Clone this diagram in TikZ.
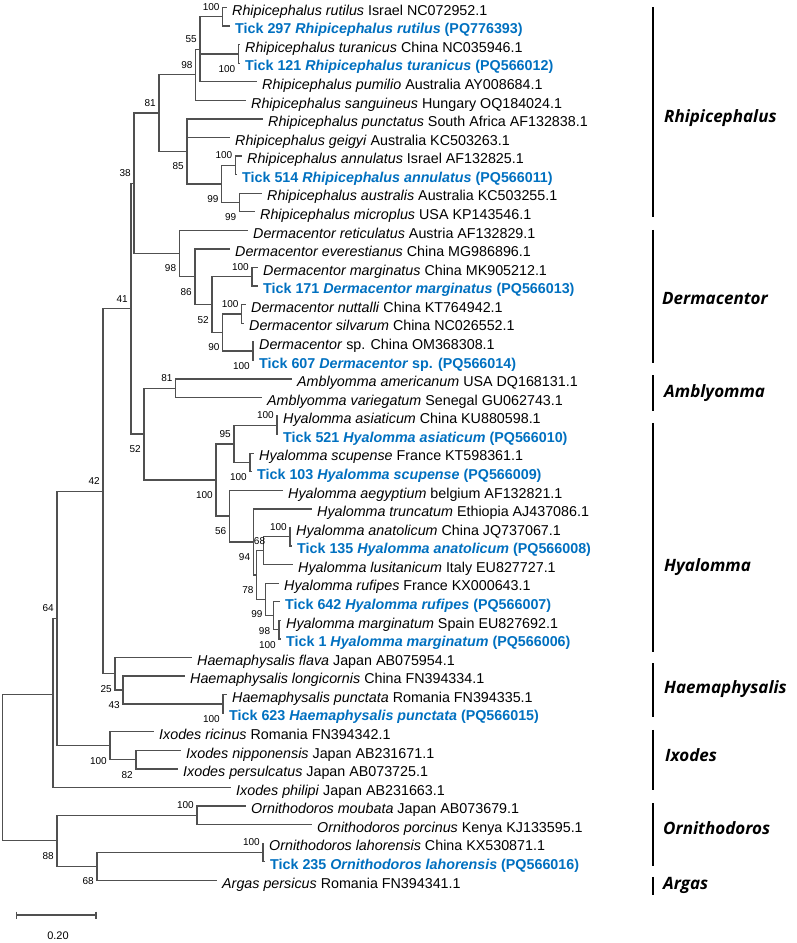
\documentclass[tikz,border=0pt]{standalone}
\usepackage{fontspec}
\setmainfont{Liberation Sans}
\newfontfamily\cladefont{Open Sans}
\newcommand{\taxonfont}{\fontsize{14.3}{17}\selectfont}
\pgfdeclarelayer{edgelayer}
\pgfdeclarelayer{nodelayer}
\pgfsetlayers{edgelayer,nodelayer,main}
\definecolor{isolateblue}{RGB}{0,112,192}
\definecolor{branchgrey}{RGB}{80,80,80}
\tikzstyle{taxon}=[anchor=west,inner xsep=5pt,inner ysep=0pt,text height=16pt,text depth=0.6pt,font=\taxonfont]
\tikzstyle{isolate}=[taxon,text=isolateblue,font=\taxonfont\bfseries]
\tikzstyle{junction}=[coordinate]
\tikzstyle{branch line}=[draw=branchgrey,line width=1.3pt]
\tikzstyle{boot}=[anchor=east,inner sep=0pt,xshift=-3pt,font=\fontsize{10}{12}\selectfont]
\tikzstyle{boot above}=[boot,yshift=10pt]
\tikzstyle{boot below}=[boot,yshift=-15pt]
\tikzstyle{clade name}=[anchor=west,inner sep=0pt,text height=12pt,text depth=3.5pt,font=\cladefont\fontsize{17}{19}\selectfont\bfseries\itshape]
\tikzstyle{clade bar}=[draw=black,line width=2pt]

\begin{document}
\begin{tikzpicture}[x=1pt,y=-18.57pt]
	\useasboundingbox (0,0.596) rectangle (797,51.377);
	\begin{pgfonlayer}{nodelayer}
		% leaves
		\node [style=taxon] (1) at (227, 1) {\textit{Rhipicephalus rutilus} Israel NC072952.1};
		\node [style=isolate] (2) at (230, 2) {Tick 297 \textit{Rhipicephalus rutilus} (PQ776393)};
		\node [style=taxon] (3) at (240, 3) {\textit{Rhipicephalus turanicus} China NC035946.1};
		\node [style=isolate] (4) at (240, 4) {Tick 121 \textit{Rhipicephalus turanicus} (PQ566012)};
		\node [style=taxon] (5) at (257, 5) {\textit{Rhipicephalus pumilio} Australia AY008684.1};
		\node [style=taxon] (6) at (246, 6) {\textit{Rhipicephalus sanguineus} Hungary OQ184024.1};
		\node [style=taxon] (7) at (263, 7) {\textit{Rhipicephalus punctatus} South Africa AF132838.1};
		\node [style=taxon] (8) at (230, 8) {\textit{Rhipicephalus geigyi} Australia KC503263.1};
		\node [style=taxon] (9) at (242, 9) {\textit{Rhipicephalus annulatus} Israel AF132825.1};
		\node [style=isolate] (10) at (237, 10) {Tick 514 \textit{Rhipicephalus annulatus} (PQ566011)};
		\node [style=taxon] (11) at (262, 11) {\textit{Rhipicephalus australis} Australia KC503255.1};
		\node [style=taxon] (12) at (255, 12) {\textit{Rhipicephalus microplus} USA KP143546.1};
		\node [style=taxon] (13) at (248, 13) {\textit{Dermacentor reticulatus} Austria AF132829.1};
		\node [style=taxon] (14) at (230, 14) {\textit{Dermacentor everestianus} China MG986896.1};
		\node [style=taxon] (15) at (258, 15) {\textit{Dermacentor marginatus} China MK905212.1};
		\node [style=isolate] (16) at (258, 16) {Tick 171 \textit{Dermacentor marginatus} (PQ566013)};
		\node [style=taxon] (17) at (246, 17) {\textit{Dermacentor nuttalli} China KT764942.1};
		\node [style=taxon] (18) at (244, 18) {\textit{Dermacentor silvarum} China NC026552.1};
		\node [style=taxon] (19) at (254, 19) {\textit{Dermacentor} sp. China OM368308.1};
		\node [style=isolate] (20) at (254, 20) {Tick 607 \textit{Dermacentor} sp. (PQ566014)};
		\node [style=taxon] (21) at (292, 21) {\textit{Amblyomma americanum} USA DQ168131.1};
		\node [style=taxon] (22) at (262, 22) {\textit{Amblyomma variegatum} Senegal GU062743.1};
		\node [style=taxon] (23) at (278, 23) {\textit{Hyalomma asiaticum} China KU880598.1};
		\node [style=isolate] (24) at (278, 24) {Tick 521 \textit{Hyalomma asiaticum} (PQ566010)};
		\node [style=taxon] (25) at (254, 25) {\textit{Hyalomma scupense} France KT598361.1};
		\node [style=isolate] (26) at (252, 26) {Tick 103 \textit{Hyalomma scupense} (PQ566009)};
		\node [style=taxon] (27) at (283, 27) {\textit{Hyalomma aegyptium} belgium AF132821.1};
		\node [style=taxon] (28) at (312, 28) {\textit{Hyalomma truncatum} Ethiopia AJ437086.1};
		\node [style=taxon] (29) at (291, 29) {\textit{Hyalomma anatolicum} China JQ737067.1};
		\node [style=isolate] (30) at (292, 30) {Tick 135 \textit{Hyalomma anatolicum} (PQ566008)};
		\node [style=taxon] (31) at (293, 31) {\textit{Hyalomma lusitanicum} Italy EU827727.1};
		\node [style=taxon] (32) at (279, 32) {\textit{Hyalomma rufipes} France KX000643.1};
		\node [style=isolate] (33) at (280, 33) {Tick 642 \textit{Hyalomma rufipes} (PQ566007)};
		\node [style=taxon] (34) at (281, 34) {\textit{Hyalomma marginatum} Spain EU827692.1};
		\node [style=isolate] (35) at (281, 35) {Tick 1 \textit{Hyalomma marginatum} (PQ566006)};
		\node [style=taxon] (36) at (192, 36) {\textit{Haemaphysalis flava} Japan AB075954.1};
		\node [style=taxon] (37) at (185, 37) {\textit{Haemaphysalis longicornis} China FN394334.1};
		\node [style=taxon] (38) at (227, 38) {\textit{Haemaphysalis punctata} Romania FN394335.1};
		\node [style=isolate] (39) at (224, 39) {Tick 623 \textit{Haemaphysalis punctata} (PQ566015)};
		\node [style=taxon] (40) at (154, 40) {\textit{Ixodes ricinus} Romania FN394342.1};
		\node [style=taxon] (41) at (181, 41) {\textit{Ixodes nipponensis} Japan AB231671.1};
		\node [style=taxon] (42) at (178, 42) {\textit{Ixodes persulcatus} Japan AB073725.1};
		\node [style=taxon] (43) at (231, 43) {\textit{Ixodes philipi} Japan AB231663.1};
		\node [style=taxon] (44) at (246, 44) {\textit{Ornithodoros moubata} Japan AB073679.1};
		\node [style=taxon] (45) at (312, 45) {\textit{Ornithodoros porcinus} Kenya KJ133595.1};
		\node [style=taxon] (46) at (264, 46) {\textit{Ornithodoros lahorensis} China KX530871.1};
		\node [style=isolate] (47) at (265, 47) {Tick 235 \textit{Ornithodoros lahorensis} (PQ566016)};
		\node [style=taxon] (48) at (217, 48) {\textit{Argas persicus} Romania FN394341.1};
		% internal nodes
		\node [style=junction] (49) at (222.7, 1.5) {};
		\node [style=junction] (50) at (238.5, 3.5) {};
		\node [style=junction] (51) at (200, 3.25) {};
		\node [style=junction] (52) at (195.7, 4.625) {};
		\node [style=junction] (53) at (235.5, 9.5) {};
		\node [style=junction] (54) at (239.5, 11.5) {};
		\node [style=junction] (55) at (221.7, 10.5) {};
		\node [style=junction] (56) at (187, 8.75) {};
		\node [style=junction] (57) at (159, 6.6875) {};
		\node [style=junction] (58) at (252, 15.5) {};
		\node [style=junction] (59) at (241.7, 17.5) {};
		\node [style=junction] (60) at (253, 19.5) {};
		\node [style=junction] (61) at (222.7, 18.5) {};
		\node [style=junction] (62) at (212, 17) {};
		\node [style=junction] (63) at (195, 15.5) {};
		\node [style=junction] (64) at (179.3, 14.25) {};
		\node [style=junction] (65) at (134, 10.47) {};
		\node [style=junction] (66) at (175.7, 21.5) {};
		\node [style=junction] (67) at (277, 23.5) {};
		\node [style=junction] (68) at (250, 25.5) {};
		\node [style=junction] (69) at (234, 24.5) {};
		\node [style=junction] (70) at (290, 29.5) {};
		\node [style=junction] (71) at (263.3, 30.25) {};
		\node [style=junction] (72) at (279, 34.5) {};
		\node [style=junction] (73) at (273.3, 33.75) {};
		\node [style=junction] (74) at (265.7, 32.875) {};
		\node [style=junction] (75) at (256.7, 31.5625) {};
		\node [style=junction] (76) at (253.3, 29.78) {};
		\node [style=junction] (77) at (229.5, 28.39) {};
		\node [style=junction] (78) at (216, 26.445) {};
		\node [style=junction] (79) at (144, 23.97) {};
		\node [style=junction] (80) at (131, 17.22) {};
		\node [style=junction] (81) at (223, 38.5) {};
		\node [style=junction] (82) at (123, 37.75) {};
		\node [style=junction] (83) at (115, 36.875) {};
		\node [style=junction] (84) at (103, 27.05) {};
		\node [style=junction] (85) at (136, 41.5) {};
		\node [style=junction] (86) at (110, 40.75) {};
		\node [style=junction] (87) at (57, 33.9) {};
		\node [style=junction] (88) at (53, 38) {};
		\node [style=junction] (89) at (197, 44.5) {};
		\node [style=junction] (90) at (263, 46.5) {};
		\node [style=junction] (91) at (97, 47.25) {};
		\node [style=junction] (92) at (57, 45.875) {};
		\node [style=junction] (93) at (2.7, 41.94) {};
		% bootstrap values
		\node [style=boot above] (b49) at (49) {100};
		\node [style=boot below] (b50) at (50) {100};
		\node [style=boot above] (b51) at (51) {55};
		\node [style=boot above] (b52) at (52) {98};
		\node [style=boot above] (b53) at (53) {100};
		\node [style=boot below] (b54) at (54) {99};
		\node [style=boot below] (b55) at (55) {99};
		\node [style=boot below] (b56) at (56) {85};
		\node [style=boot above] (b57) at (57) {81};
		\node [style=boot above] (b58) at (58) {100};
		\node [style=boot above] (b59) at (59) {100};
		\node [style=boot below] (b60) at (60) {100};
		\node [style=boot below] (b61) at (61) {90};
		\node [style=boot below] (b62) at (62) {52};
		\node [style=boot below] (b63) at (63) {86};
		\node [style=boot below] (b64) at (64) {98};
		\node [style=boot above] (b65) at (65) {38};
		\node [style=boot above] (b66) at (66) {81};
		\node [style=boot above] (b67) at (67) {100};
		\node [style=boot below] (b68) at (68) {100};
		\node [style=boot above] (b69) at (69) {95};
		\node [style=boot above] (b70) at (70) {100};
		\node [style=boot above, xshift=5pt] (b71) at (71) {68};
		\node [style=boot below] (b72) at (72) {100};
		\node [style=boot below] (b73) at (73) {98};
		\node [style=boot below] (b74) at (74) {99};
		\node [style=boot below] (b75) at (75) {78};
		\node [style=boot below] (b76) at (76) {94};
		\node [style=boot below] (b77) at (77) {56};
		\node [style=boot below] (b78) at (78) {100};
		\node [style=boot below] (b79) at (79) {52};
		\node [style=boot above] (b80) at (80) {41};
		\node [style=boot below] (b81) at (81) {100};
		\node [style=boot below] (b82) at (82) {43};
		\node [style=boot below] (b83) at (83) {25};
		\node [style=boot above] (b84) at (84) {42};
		\node [style=boot below] (b85) at (85) {82};
		\node [style=boot below] (b86) at (86) {100};
		\node [style=boot above] (b87) at (87) {64};
		\node [style=boot above] (b89) at (89) {100};
		\node [style=boot above] (b90) at (90) {100};
		\node [style=boot below] (b91) at (91) {68};
		\node [style=boot below] (b92) at (92) {88};
		% genus brackets
		\node [style=clade name] (rhip) at (664, 6.95) {Rhipicephalus};
		\node [style=clade name] (derm) at (662, 16.75) {Dermacentor};
		\node [style=clade name] (ambl) at (664, 21.76) {Amblyomma};
		\node [style=clade name] (hyal) at (664, 31.13) {Hyalomma};
		\node [style=clade name] (haem) at (664, 37.7) {Haemaphysalis};
		\node [style=clade name] (ixod) at (665, 41.36) {Ixodes};
		\node [style=clade name] (orni) at (663, 45.29) {Ornithodoros};
		\node [style=clade name] (arga) at (663, 48.25) {Argas};
		% scale
		\coordinate (s0) at (16.7, 49.87);
		\coordinate (s1) at (96, 49.87);
		\node [font=\fontsize{11}{13}\selectfont, inner sep=0pt] (scale) at (58, 51.0) {0.20};
	\end{pgfonlayer}
	\begin{pgfonlayer}{edgelayer}
		\draw [style=branch line] (49) |- (1) (49) |- (2);
		\draw [style=branch line] (50) |- (3) (50) |- (4);
		\draw [style=branch line] (51) |- (49) (51) |- (50) (51) |- (5);
		\draw [style=branch line] (52) |- (51) (52) |- (6);
		\draw [style=branch line] (53) |- (9) (53) |- (10);
		\draw [style=branch line] (54) |- (11) (54) |- (12);
		\draw [style=branch line] (55) |- (53) (55) |- (54);
		\draw [style=branch line] (56) |- (7) (56) |- (8) (56) |- (55);
		\draw [style=branch line] (57) |- (52) (57) |- (56);
		\draw [style=branch line] (58) |- (15) (58) |- (16);
		\draw [style=branch line] (59) |- (17) (59) |- (18);
		\draw [style=branch line] (60) |- (19) (60) |- (20);
		\draw [style=branch line] (61) |- (59) (61) |- (60);
		\draw [style=branch line] (62) |- (58) (62) |- (61);
		\draw [style=branch line] (63) |- (14) (63) |- (62);
		\draw [style=branch line] (64) |- (13) (64) |- (63);
		\draw [style=branch line] (65) |- (57) (65) |- (64);
		\draw [style=branch line] (66) |- (21) (66) |- (22);
		\draw [style=branch line] (67) |- (23) (67) |- (24);
		\draw [style=branch line] (68) |- (25) (68) |- (26);
		\draw [style=branch line] (69) |- (67) (69) |- (68);
		\draw [style=branch line] (70) |- (29) (70) |- (30);
		\draw [style=branch line] (71) |- (70) (71) |- (31);
		\draw [style=branch line] (72) |- (34) (72) |- (35);
		\draw [style=branch line] (73) |- (33) (73) |- (72);
		\draw [style=branch line] (74) |- (32) (74) |- (73);
		\draw [style=branch line] (75) |- (71) (75) |- (74);
		\draw [style=branch line] (76) |- (28) (76) |- (75);
		\draw [style=branch line] (77) |- (27) (77) |- (76);
		\draw [style=branch line] (78) |- (69) (78) |- (77);
		\draw [style=branch line] (79) |- (66) (79) |- (78);
		\draw [style=branch line] (80) |- (65) (80) |- (79);
		\draw [style=branch line] (81) |- (38) (81) |- (39);
		\draw [style=branch line] (82) |- (37) (82) |- (81);
		\draw [style=branch line] (83) |- (36) (83) |- (82);
		\draw [style=branch line] (84) |- (80) (84) |- (83);
		\draw [style=branch line] (85) |- (41) (85) |- (42);
		\draw [style=branch line] (86) |- (40) (86) |- (85);
		\draw [style=branch line] (87) |- (84) (87) |- (86);
		\draw [style=branch line] (88) |- (87) (88) |- (43);
		\draw [style=branch line] (89) |- (44) (89) |- (45);
		\draw [style=branch line] (90) |- (46) (90) |- (47);
		\draw [style=branch line] (91) |- (90) (91) |- (48);
		\draw [style=branch line] (92) |- (89) (92) |- (91);
		\draw [style=branch line] (93) |- (88) (93) |- (92);
		% genus bars
		\draw [style=clade bar] (653.3, 0.973) -- (653.3, 12.28);
		\draw [style=clade bar] (653.3, 12.98) -- (653.3, 20.14);
		\draw [style=clade bar] (653.3, 20.79) -- (653.3, 22.73);
		\draw [style=clade bar] (653.3, 23.37) -- (653.3, 35.71);
		\draw [style=clade bar] (653.3, 36.3) -- (653.3, 39.2);
		\draw [style=clade bar] (653.3, 39.9) -- (653.3, 43.14);
		\draw [style=clade bar] (653.3, 43.84) -- (653.3, 47.23);
		\draw [style=clade bar] (653.3, 47.82) -- (653.3, 48.79);
		% scale bar
		\draw [style=branch line] (s0) -- (s1);
		\draw [style=branch line] ([yshift=3.5pt]s0) -- ([yshift=-3.5pt]s0);
		\draw [style=branch line] ([yshift=3.5pt]s1) -- ([yshift=-3.5pt]s1);
	\end{pgfonlayer}
\end{tikzpicture}
\end{document}
